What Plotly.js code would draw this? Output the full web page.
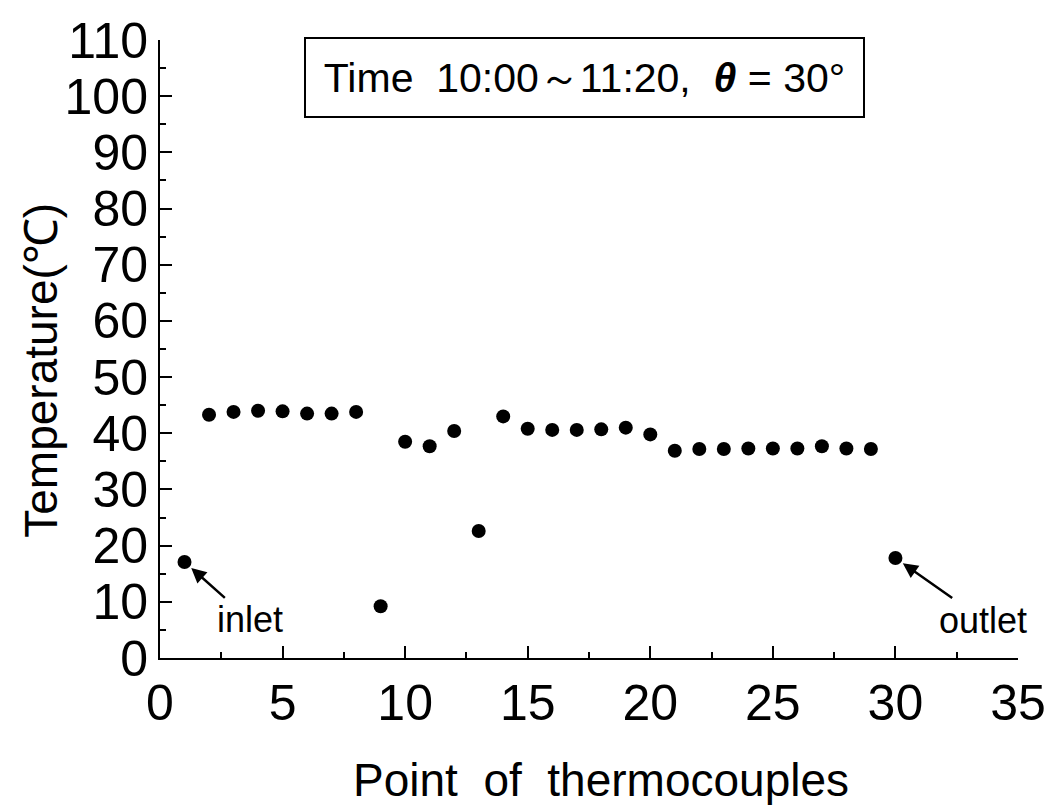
<!DOCTYPE html>
<html>
<head>
<meta charset="utf-8">
<script src="https://cdn.plot.ly/plotly-3.0.1.min.js"></script>
<style>
  html, body { margin: 0; padding: 0; background: #fff; }
  #chart { width: 1053px; height: 805px; }
</style>
</head>
<body>
<div id="chart"></div>
<script>
// ---- data ----
const points = [1, 2, 3, 4, 5, 6, 7, 8, 9, 10, 11, 12, 13, 14, 15,
                16, 17, 18, 19, 20, 21, 22, 23, 24, 25, 26, 27, 28, 29, 30];
const temps  = [17.1, 43.3, 43.8, 44.0, 43.9, 43.5, 43.5, 43.8, 9.2, 38.5,
                37.7, 40.4, 22.6, 43.0, 40.8, 40.6, 40.6, 40.7, 41.0, 39.8,
                36.9, 37.2, 37.2, 37.3, 37.3, 37.3, 37.7, 37.3, 37.2, 17.8];
const xTicks = [0, 5, 10, 15, 20, 25, 30, 35];
const yTicks = [0, 10, 20, 30, 40, 50, 60, 70, 80, 90, 100, 110];
const inletIndex = 0;
const outletIndex = 29;
const boxText = 'Time  10:00～11:20,  <b><i>θ</i></b> = 30°';
const xTitle = 'Point  of  thermocouples';
const yTitle = 'Temperature(℃)';

const FONT = 'Liberation Sans, Arial, sans-serif';

const trace = {
  x: points,
  y: temps,
  type: 'scatter',
  mode: 'markers',
  marker: { color: '#000', size: 14 },
  showlegend: false,
  hoverinfo: 'x+y'
};

const layout = {
  width: 1053,
  height: 805,
  paper_bgcolor: '#fff',
  plot_bgcolor: '#fff',
  margin: { l: 160, r: 35, t: 40, b: 147 },
  font: { family: FONT, color: '#000' },
  xaxis: {
    range: [0, 35],
    tickvals: xTicks,
    ticktext: xTicks.map(String),
    ticks: 'inside',
    ticklen: 12,
    tickwidth: 2,
    tickcolor: '#000',
    minor: { dtick: 2.5, tick0: 0, ticks: 'inside', ticklen: 6, tickwidth: 2, tickcolor: '#000' },
    showline: true,
    linewidth: 2,
    linecolor: '#000',
    mirror: false,
    showgrid: false,
    zeroline: false,
    tickfont: { size: 50, family: FONT, color: '#000' },
    automargin: false
  },
  yaxis: {
    range: [0, 110],
    tickvals: yTicks,
    ticktext: yTicks.map(String),
    ticks: 'inside',
    ticklen: 12,
    tickwidth: 2,
    tickcolor: '#000',
    minor: { dtick: 5, tick0: 0, ticks: 'inside', ticklen: 6, tickwidth: 2, tickcolor: '#000' },
    showline: true,
    linewidth: 2,
    linecolor: '#000',
    mirror: false,
    showgrid: false,
    zeroline: false,
    tickfont: { size: 50, family: FONT, color: '#000' },
    automargin: false
  },
  annotations: [
    {
      xref: 'paper', yref: 'paper',
      x: 0.4948, y: 0.9393,
      xanchor: 'center', yanchor: 'middle',
      text: boxText,
      showarrow: false,
      font: { size: 41, family: FONT, color: '#000' },
      bordercolor: '#000',
      borderwidth: 2,
      borderpad: 8,
      bgcolor: '#fff',
      width: 541,
      height: 61
    },
    {
      xref: 'paper', yref: 'paper',
      x: 0.514, y: -0.197,
      xanchor: 'center', yanchor: 'middle',
      text: xTitle,
      showarrow: false,
      font: { size: 46, family: FONT, color: '#000' }
    },
    {
      xref: 'paper', yref: 'paper',
      x: -0.139, y: 0.466,
      xanchor: 'center', yanchor: 'middle',
      text: yTitle,
      textangle: -90,
      showarrow: false,
      font: { size: 46, family: FONT, color: '#000' }
    },
    {
      x: points[inletIndex], y: temps[inletIndex],
      xref: 'x', yref: 'y',
      text: 'inlet',
      showarrow: true,
      arrowhead: 2,
      arrowsize: 1.2,
      arrowwidth: 2.5,
      arrowcolor: '#000',
      standoff: 9,
      ax: 65, ay: 58,
      font: { size: 36, family: FONT, color: '#000' }
    },
    {
      x: points[outletIndex], y: temps[outletIndex],
      xref: 'x', yref: 'y',
      text: 'outlet',
      showarrow: true,
      arrowhead: 2,
      arrowsize: 1.2,
      arrowwidth: 2.5,
      arrowcolor: '#000',
      standoff: 9,
      ax: 88, ay: 62,
      font: { size: 36, family: FONT, color: '#000' }
    }
  ]
};

Plotly.newPlot('chart', [trace], layout, { displayModeBar: false, staticPlot: true });
</script>
</body>
</html>
